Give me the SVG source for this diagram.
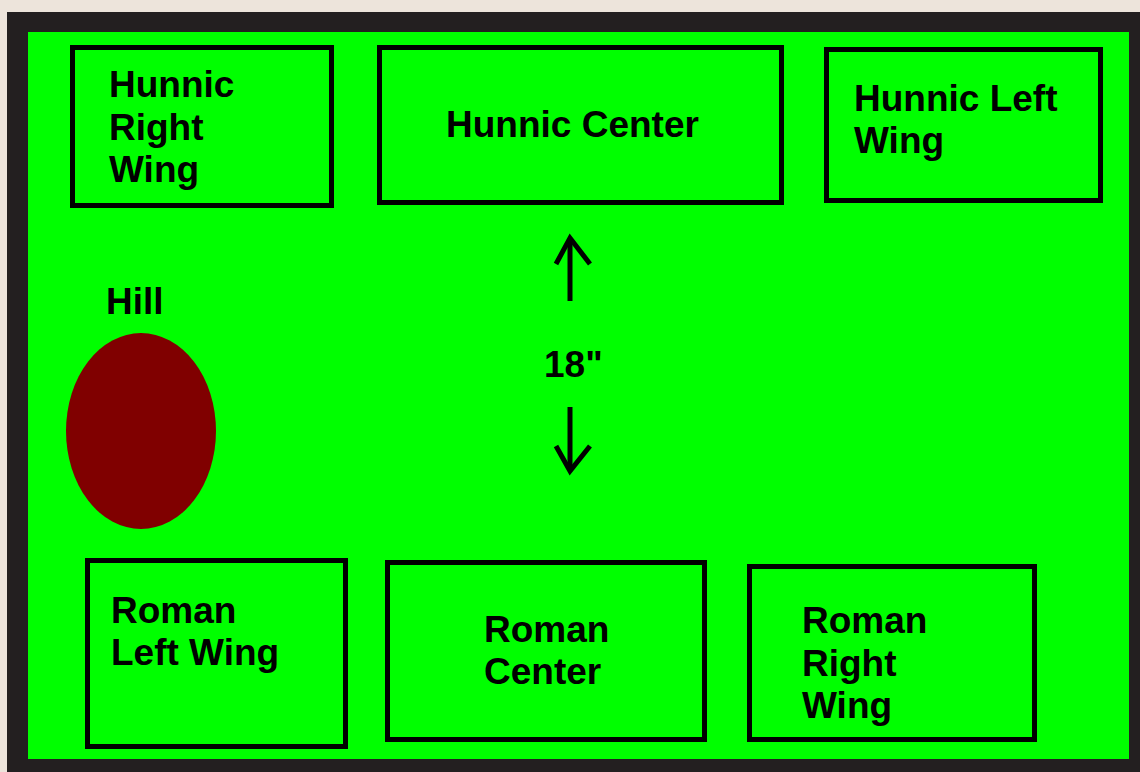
<svg xmlns="http://www.w3.org/2000/svg" width="1140" height="772" viewBox="0 0 1140 772">
<style>
.box{fill:none;stroke:#000;stroke-width:5}
.t{font-family:"Liberation Sans",Arial,sans-serif;font-weight:bold;font-size:37px;fill:#000}
.arr{fill:none;stroke:#000;stroke-width:5;stroke-linecap:butt;stroke-linejoin:miter}
</style>
<rect x="0" y="0" width="1140" height="772" fill="#ede4db"/>
<rect x="7" y="12" width="1133" height="760" fill="#231f20"/>
<rect x="28" y="32" width="1101" height="727" fill="#00ff00"/>
<g id="hunnic-right-wing">
<rect class="box" x="72.5" y="47.5" width="259" height="158"/>
<text class="t" x="109" y="97">Hunnic</text>
<text class="t" x="109" y="140">Right</text>
<text class="t" x="109" y="182">Wing</text>
</g>
<g id="hunnic-center">
<rect class="box" x="379.5" y="47.5" width="402" height="155"/>
<text class="t" x="446" y="137">Hunnic Center</text>
</g>
<g id="hunnic-left-wing">
<rect class="box" x="826.5" y="49.5" width="274" height="151"/>
<text class="t" x="854" y="111">Hunnic Left</text>
<text class="t" x="854" y="153">Wing</text>
</g>
<g id="hill">
<text class="t" x="106" y="314">Hill</text>
<ellipse cx="141" cy="431" rx="75" ry="98" fill="#800000"/>
</g>
<g id="roman-left-wing">
<rect class="box" x="87.5" y="560.5" width="258" height="186"/>
<text class="t" x="111" y="623">Roman</text>
<text class="t" x="111" y="665">Left Wing</text>
</g>
<g id="roman-center">
<rect class="box" x="387.5" y="562.5" width="317" height="177"/>
<text class="t" x="484" y="642">Roman</text>
<text class="t" x="484" y="684">Center</text>
</g>
<g id="roman-right-wing">
<rect class="box" x="749.5" y="566.5" width="285" height="173"/>
<text class="t" x="802" y="633">Roman</text>
<text class="t" x="802" y="676">Right</text>
<text class="t" x="802" y="718">Wing</text>
</g>
<g id="connectors">
<path class="arr" d="M570 301 L570 239"/>
<path class="arr" d="M556 264 L570 238 L590 264"/>
<path class="arr" d="M570 407 L570 468"/>
<path class="arr" d="M556 446 L570 471 L590 446"/>
<text class="t" x="544" y="377">18"</text>
</g>
</svg>
